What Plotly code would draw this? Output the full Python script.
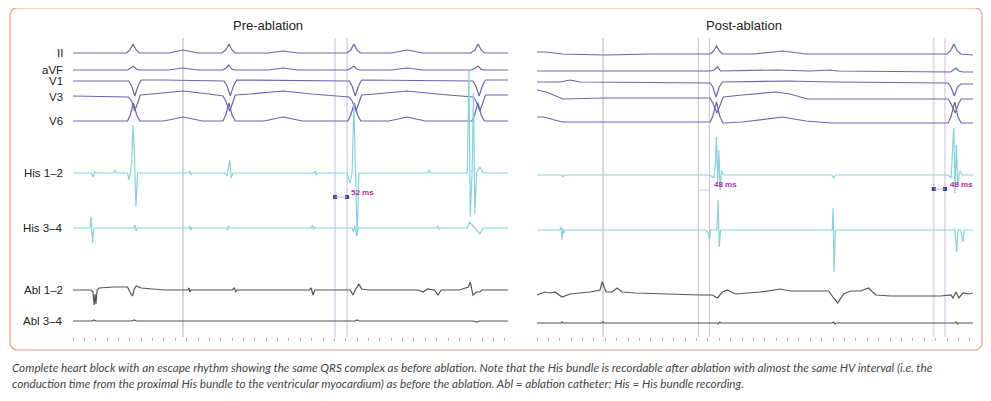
import plotly.graph_objects as go

# channel names and baselines (pixel rows of the recording)
channels = ["II", "aVF", "V1", "V3", "V6", "His 1–2", "His 3–4", "Abl 1–2", "Abl 3–4"]
pre_offsets = [53, 70, 81, 97, 121, 173, 228, 290, 321]
post_offsets = [54, 71, 82, 98, 122, 175, 230, 294, 323]

# ---- Pre-ablation traces: (time ms, amplitude) ----
pre_II = [(0,0),(235,0),(250,3),(264,9),(278,3),(292,0),(420,0),(484,3),(550,0),(655,0),(672,3),(686,9),(700,3),
          (714,0),(860,0),(924,2),(990,0),(1205,0),(1222,3),(1236,9),(1250,3),(1265,0),(1400,0),(1470,3),(1540,0),
          (1750,0),(1768,3),(1782,9),(1796,3),(1810,0),(1914,0)]
pre_aVF = [(0,0),(240,0),(255,2),(266,4),(278,1),(292,0),(420,0),(484,2),(550,0),(660,0),(674,2),(686,5),(698,1),
           (712,0),(860,0),(924,2),(990,0),(1210,0),(1224,2),(1236,4),(1248,1),(1262,0),(1400,0),(1470,2),(1540,0),
           (1755,0),(1770,2),(1782,4),(1794,1),(1808,0),(1914,0)]
pre_V1 = [(0,0),(245,0),(258,-5),(272,-15),(286,-5),(300,1),(400,1),(665,0),(678,-5),(692,-15),(706,-5),(720,1),
          (1215,0),(1228,-5),(1242,-15),(1256,-5),(1270,1),(1760,0),(1773,-5),(1787,-15),(1801,-5),(1815,1),(1914,1)]
pre_V3 = [(0,1),(200,0),(245,0),(258,-4),(272,-14),(284,-6),(296,2),(350,3),(484,6),(600,3),(660,1),(672,-4),
          (690,-14),(702,-6),(714,2),(780,3),(924,6),(1050,3),(1150,1),(1215,0),(1228,-4),(1245,-14),(1258,-6),
          (1270,2),(1330,3),(1470,6),(1600,3),(1700,1),(1760,0),(1773,-4),(1790,-14),(1803,-6),(1815,2),(1914,2)]
pre_V6 = [(0,0),(240,0),(252,6),(266,18),(280,6),(294,0),(400,0),(484,4),(570,0),(660,0),(672,6),(686,18),(700,6),
          (714,0),(840,0),(924,4),(1010,0),(1210,0),(1222,6),(1238,18),(1252,6),(1266,0),(1390,0),(1470,4),(1550,0),
          (1755,0),(1767,6),(1782,18),(1796,6),(1810,0),(1914,0)]
pre_His12 = [(0,0),(80,0),(88,-4),(95,1),(105,0),(180,0),(185,3),(190,0),(240,0),(246,-7),(252,0),(258,10),
             (264,48),(270,20),(277,-34),(284,0),(300,0),(510,0),(514,2),(518,-2),(522,0),(670,0),(678,-3),(684,4),
             (690,13),(696,-5),(704,0),(1062,0),(1066,2),(1070,-2),(1074,0),(1205,0),(1219,-10),(1228,0),(1236,70),
             (1242,10),(1250,-62),(1258,0),(1560,0),(1566,3),(1572,0),(1735,0),(1742,103),(1748,-44),(1756,0),
             (1762,80),(1768,-40),(1776,0),(1790,6),(1805,0),(1914,0)]
pre_His34 = [(0,0),(75,0),(80,11),(86,-15),(92,0),(100,0),(268,0),(272,3),(278,-3),(284,0),(510,0),(514,2),
             (518,-2),(522,0),(675,0),(680,-2),(686,2),(692,0),(1050,0),(1054,3),(1058,-2),(1062,1),(1066,0),
             (1228,0),(1234,-4),(1240,2),(1248,-8),(1256,0),(1600,0),(1605,2),(1610,-1),(1615,0),(1735,0),(1745,6),
             (1760,2),(1790,-6),(1805,0),(1914,0)]
pre_Abl12 = [(0,0),(80,0),(88,-2),(93,-15),(97,-4),(101,-14),(106,0),(115,2),(180,3),(240,3),(255,-4),(262,-6),
             (270,1),(278,4),(300,2),(350,1),(400,0),(505,0),(510,2),(515,-2),(520,0),(700,0),(710,2),(716,-2),
             (722,0),(1040,0),(1048,2),(1056,-5),(1064,0),(1220,0),(1232,-5),(1242,0),(1258,6),(1270,1),(1300,0),
             (1520,0),(1540,-2),(1560,1),(1590,0),(1606,-5),(1620,0),(1700,0),(1740,3),(1748,8),(1760,-5),
             (1775,-2),(1790,-2),(1800,0),(1914,0)]
pre_Abl34 = [(0,0),(85,0),(92,1),(100,0),(260,0),(270,1),(280,0),(1240,0),(1250,1),(1260,0),(1760,0),(1775,-1),
             (1790,0),(1914,0)]

# ---- Post-ablation traces ----
post_II = [(0,2),(40,2),(110,0),(300,-1),(500,0),(760,0),(775,3),(788,8),(801,3),(815,0),(950,0),(1078,3),(1180,0),
           (1300,0),(1800,0),(1815,3),(1830,10),(1845,3),(1860,0),(1914,-1)]
post_aVF = [(0,0),(300,0),(760,0),(778,1),(792,4),(806,0),(1000,1),(1050,1),(1200,0),(1290,1),(1320,0),(1700,-1),
            (1815,-1),(1828,1),(1840,3),(1852,0),(1870,-1),(1914,-1)]
post_V1 = [(0,0),(100,0),(145,2),(190,0),(760,-1),(772,-5),(786,-15),(800,-5),(814,0),(1000,1),(1100,1),(1300,0),
           (1600,-1),(1805,-1),(1817,-5),(1832,-14),(1846,-5),(1860,-2),(1914,-2)]
post_V3 = [(0,8),(40,6),(114,-1),(300,0),(760,0),(772,-5),(790,-15),(804,-6),(818,1),(900,3),(1047,6),(1110,4),
           (1188,-1),(1805,-1),(1818,-6),(1836,-15),(1850,-6),(1862,-1),(1914,-1)]
post_V6 = [(0,5),(30,5),(110,0),(760,0),(772,6),(788,20),(802,6),(816,-1),(900,0),(1078,5),(1180,1),(1290,-1),
           (1805,-1),(1817,5),(1834,20),(1848,5),(1862,-1),(1914,-1)]
post_His12 = [(0,0),(108,0),(114,-2),(120,0),(760,0),(776,-3),(782,8),(788,38),(793,-8),(798,25),(804,-15),
              (810,4),(820,0),(1295,0),(1302,-3),(1310,0),(1805,0),(1818,-3),(1825,30),(1830,47),(1835,-18),
              (1841,30),(1847,-10),(1856,4),(1868,0),(1914,0)]
post_His34 = [(0,0),(100,0),(105,3),(110,-10),(114,2),(118,-3),(124,0),(740,0),(752,-3),(757,-10),(762,0),
              (790,0),(795,30),(800,-17),(806,0),(1296,0),(1300,22),(1304,-42),(1310,0),(1835,0),(1842,-22),
              (1848,0),(1860,0),(1870,-12),(1876,0),(1914,0)]
post_Abl12 = [(0,-1),(35,2),(57,1),(79,2),(110,-3),(145,0),(189,1),(233,2),(277,4),(286,12),(304,2),(330,2),
              (352,6),(374,2),(431,1),(541,0),(717,-1),(770,-1),(792,-4),(814,2),(836,4),(871,0),(937,1),(981,2),
              (1069,5),(1113,3),(1201,3),(1280,3),(1302,-4),(1320,-9),(1346,0),(1377,3),(1421,3),(1456,6),
              (1487,-1),(1553,-2),(1773,-2),(1817,-1),(1826,-4),(1839,2),(1852,-4),(1870,1),(1896,0),(1914,1)]
post_Abl34 = [(0,0),(105,0),(110,1),(115,0),(285,0),(290,1),(295,0),(790,0),(796,-1),(802,1),(808,0),(1296,0),
              (1302,1),(1308,-1),(1314,0),(1835,0),(1840,1),(1846,-1),(1852,0),(1914,0)]

pre_traces = [pre_II, pre_aVF, pre_V1, pre_V3, pre_V6, pre_His12, pre_His34, pre_Abl12, pre_Abl34]
post_traces = [post_II, post_aVF, post_V1, post_V3, post_V6, post_His12, post_His34, post_Abl12, post_Abl34]

# markers (ms)
pre_gray = [484]
pre_pink = [1153, 1206]
post_gray = [290]
post_pink = [708, 757, 1742, 1791]
hv_labels = ["52 ms", "48 ms", "48 ms"]

# page has an 8px body margin, so the figure is drawn 8px in and sized to fit the window
PAD = 8
W, H = 991 - 2 * PAD, 401 - 2 * PAD
ecg_col = "#6a68ad"
his_col = "#86d3db"
abl_col = "#555555"
colors = [ecg_col]*5 + [his_col]*2 + [abl_col]*2

fig = go.Figure()

def add_channel(data, base, col, xa):
    xs = [p[0] for p in data]
    ys = [base - p[1] for p in data]
    fig.add_trace(go.Scatter(x=xs, y=ys, mode="lines", xaxis=xa, yaxis="y",
                             line=dict(color=col, width=1.2), hoverinfo="skip", showlegend=False))

for d, b, c in zip(pre_traces, pre_offsets, colors):
    add_channel(d, b, c, "x")
for d, b, c in zip(post_traces, post_offsets, colors):
    add_channel(d, b, c, "x2")

# screen pixel -> paper fraction
def px(x): return (x - PAD) / W
def py(y): return 1 - (y - PAD) / H

ytop, ybot = 38, 337
axis_common = dict(range=[0, 1914], showgrid=False, zeroline=False, showline=False, showticklabels=False,
                   ticks="outside", ticklen=3, tickwidth=1, tickcolor="#b8b8b8", dtick=50, tick0=0)
fig.update_layout(
    width=W, height=H, margin=dict(l=0, r=0, t=0, b=0),
    paper_bgcolor="white", plot_bgcolor="white",
    xaxis=dict(domain=[px(73), px(508)], anchor="y", **axis_common),
    xaxis2=dict(domain=[px(537), px(973)], anchor="y", **axis_common),
    yaxis=dict(domain=[py(ybot), py(ytop)], range=[ybot, ytop], visible=False),
)

shapes = []
for xa, grays, pinks in [("x", pre_gray, pre_pink), ("x2", post_gray, post_pink)]:
    for g in grays:
        shapes.append(dict(type="line", xref=xa, yref="y", x0=g, x1=g, y0=ytop, y1=ybot,
                           line=dict(color="#bdbdc6", width=1.2), layer="below"))
    for p in pinks:
        shapes.append(dict(type="line", xref=xa, yref="y", x0=p, x1=p, y0=ytop, y1=ybot,
                           line=dict(color="#dcc3e6", width=1.2), layer="below"))

# HV interval brackets
shapes.append(dict(type="line", xref="x", yref="y", x0=pre_pink[0], x1=pre_pink[1], y0=197, y1=197,
                   line=dict(color="#bbbbdd", width=1)))
shapes.append(dict(type="line", xref="x2", yref="y", x0=post_pink[0], x1=post_pink[1], y0=190, y1=190,
                   line=dict(color="#c8c8c8", width=1)))
shapes.append(dict(type="line", xref="x2", yref="y", x0=post_pink[2], x1=post_pink[3], y0=189, y1=189,
                   line=dict(color="#bbbbdd", width=1)))

# rounded border
x0, x1, y0, y1, r = 10, 982, 8, 350, 8
pts = [("M", x0 + r, y0), ("L", x1 - r, y0), ("Q", x1, y0, x1, y0 + r), ("L", x1, y1 - r),
       ("Q", x1, y1, x1 - r, y1), ("L", x0 + r, y1), ("Q", x0, y1, x0, y1 - r), ("L", x0, y0 + r),
       ("Q", x0, y0, x0 + r, y0)]
path = ""
for seg in pts:
    coords = seg[1:]
    s = " ".join(f"{px(coords[i]):.5f},{py(coords[i+1]):.5f}" for i in range(0, len(coords), 2))
    path += f"{seg[0]} {s} "
path += "Z"
shapes.append(dict(type="path", xref="paper", yref="paper", path=path,
                   line=dict(color="#ef9f86", width=1.2)))
fig.update_layout(shapes=shapes)

# HV squares
fig.add_trace(go.Scatter(x=pre_pink, y=[197, 197], mode="markers", xaxis="x", yaxis="y",
                         marker=dict(symbol="square", size=4, color="#3b3ba8"), hoverinfo="skip", showlegend=False))
fig.add_trace(go.Scatter(x=post_pink[2:], y=[189, 189], mode="markers", xaxis="x2", yaxis="y",
                         marker=dict(symbol="square", size=4, color="#3b3ba8"), hoverinfo="skip", showlegend=False))

lab_font = dict(family="Liberation Sans, Arial, sans-serif", size=11.5, color="#222222")
ann = []
for name, b in zip(channels, pre_offsets):
    ann.append(dict(x=px(65), xref="paper", y=b, yref="y", text=name, showarrow=False,
                    xanchor="right", yanchor="middle", font=lab_font))
title_font = dict(family="Liberation Sans, Arial, sans-serif", size=13, color="#222222")
ann.append(dict(x=px(268), xref="paper", y=py(25), yref="paper", text="Pre-ablation", showarrow=False,
                xanchor="center", yanchor="middle", font=title_font))
ann.append(dict(x=px(744), xref="paper", y=py(25), yref="paper", text="Post-ablation", showarrow=False,
                xanchor="center", yanchor="middle", font=title_font))

hv_font = dict(family="Liberation Sans, Arial, sans-serif", size=8, color="#b2309c")
ann.append(dict(x=1214, xref="x", y=192, yref="y", text="<b>" + hv_labels[0] + "</b>", showarrow=False,
                xanchor="left", font=hv_font))
ann.append(dict(x=770, xref="x2", y=184, yref="y", text="<b>" + hv_labels[1] + "</b>", showarrow=False,
                xanchor="left", font=hv_font))
ann.append(dict(x=1804, xref="x2", y=184, yref="y", text="<b>" + hv_labels[2] + "</b>", showarrow=False,
                xanchor="left", font=hv_font))

caption1 = ("Complete heart block with an escape rhythm showing the same QRS complex as before ablation. "
            "Note that the His bundle is recordable after ablation with almost the same HV interval (i.e. the")
caption2 = ("conduction time from the proximal His bundle to the ventricular myocardium) as before the ablation. "
            "Abl = ablation catheter; His = His bundle recording.")
cap_font = dict(family="Lato, sans-serif", size=11.7, color="#444444")
ann.append(dict(x=px(10), xref="paper", y=py(367), yref="paper", text="<i>" + caption1 + "</i>",
                showarrow=False, xanchor="left", yanchor="middle", font=cap_font))
ann.append(dict(x=px(10), xref="paper", y=py(383), yref="paper", text="<i>" + caption2 + "</i>",
                showarrow=False, xanchor="left", yanchor="middle", font=cap_font))
fig.update_layout(annotations=ann)

fig.write_html("out.html")
